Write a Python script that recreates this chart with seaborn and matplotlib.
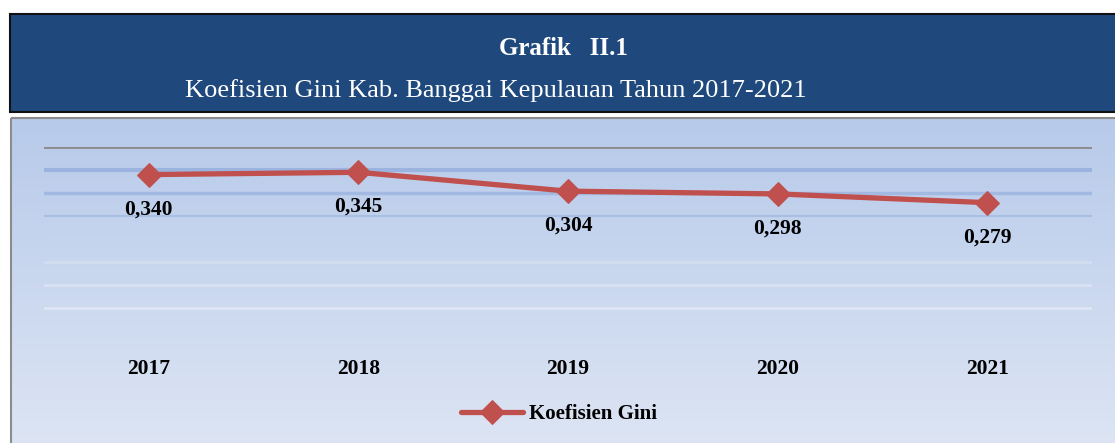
import matplotlib
matplotlib.use("Agg")
import matplotlib.pyplot as plt
import seaborn as sns
import numpy as np
import pandas as pd
from matplotlib.patches import Rectangle

# data
tahun = ['2017', '2018', '2019', '2020', '2021']
gini = [0.340, 0.345, 0.304, 0.298, 0.279]
label_gini = ['0,340', '0,345', '0,304', '0,298', '0,279']

judul = 'Grafik   II.1'
sub_judul = 'Koefisien Gini Kab. Banggai Kepulauan Tahun 2017-2021'
nama_seri = 'Koefisien Gini'

sns.set_theme(style='white')
plt.rcParams['font.family'] = ['Liberation Serif', 'DejaVu Serif']

W, H = 1115, 443
fig = plt.figure(figsize=(W / 100, H / 100), dpi=100)
fig.patch.set_facecolor('white')

# background: header box + gradient chart area
bg = fig.add_axes([0, 0, 1, 1])
bg.set_xlim(0, W)
bg.set_ylim(H, 0)
bg.axis('off')

grad = np.linspace(0, 1, 256).reshape(-1, 1)
top_c = np.array([183, 202, 234]) / 255
bot_c = np.array([221, 229, 244]) / 255
img = top_c + (bot_c - top_c) * grad[..., None]
img = img.reshape(256, 1, 3)
bg.imshow(img, extent=(11, W + 5, H + 5, 118), aspect='auto', zorder=1)
bg.add_patch(Rectangle((11, 118), W, H, fill=False, edgecolor='#8c8c8c', lw=1.5, zorder=2))
bg.add_patch(Rectangle((10, 14), W + 10, 98, facecolor='#1f497d', edgecolor='#111111', lw=1.5, zorder=2))
bg.set_xlim(0, W)
bg.set_ylim(H, 0)

bg.text(563, 48, judul, ha='center', va='center', color='white', fontsize=18,
        fontweight='bold', zorder=3)
bg.text(496, 91, sub_judul, ha='center', va='center', color='white', fontsize=19, zorder=3)

# main plot
left, right = 44, 1092
top, bottom = 147, 331
ax = fig.add_axes([left / W, 1 - bottom / H, (right - left) / W, (bottom - top) / H])
ax.set_facecolor('none')
ax.patch.set_alpha(0)

df = pd.DataFrame({'Tahun': tahun, 'Gini': gini})

# gridlines
grid_style = {
    0.05: ('#dfe6f3', 2.0), 0.10: ('#d9e2f2', 2.0), 0.15: ('#d3ddf0', 2.0),
    0.20: ('#c6d3ec', 1.5), 0.25: ('#a9bee3', 1.5), 0.30: ('#a2b9e1', 2.5),
    0.35: ('#9bb4df', 3.0),
}
for yv, (c, lw) in grid_style.items():
    ax.axhline(yv, color=c, lw=lw, zorder=1)
ax.axhline(0.40, color='#8a8a8a', lw=2, zorder=1)

sns.lineplot(data=df, x='Tahun', y='Gini', ax=ax, color='#c0504d', lw=3.8,
             marker='D', markersize=12, markeredgecolor='#c0504d', label=nama_seri,
             zorder=3, sort=False)

for i, (v, t) in enumerate(zip(gini, label_gini)):
    ax.annotate(t, (i, v), xytext=(0, -25), textcoords='offset points', ha='center',
                va='center', fontsize=15.5, fontweight='bold', color='black')

ax.set_xlim(-0.5, len(tahun) - 0.5)
ax.set_ylim(0, 0.4)
ax.set_yticks([])
ax.set_xlabel('')
ax.set_ylabel('')
for s in ax.spines.values():
    s.set_visible(False)
ax.tick_params(axis='x', length=0, pad=20, labelcolor='black')
for lab in ax.get_xticklabels():
    lab.set_fontweight('bold')
    lab.set_fontsize(15.5)

ax.get_legend().remove()
h, l = ax.get_legend_handles_labels()
leg = fig.legend(h, l, loc='center', bbox_to_anchor=(559 / W, 1 - 414 / H), frameon=False,
                 handlelength=3.0, handletextpad=0.3,
                 prop={'weight': 'bold', 'size': 15, 'family': 'Liberation Serif'})
for t in leg.get_texts():
    t.set_color('black')

fig.savefig('out.png', dpi=100)
